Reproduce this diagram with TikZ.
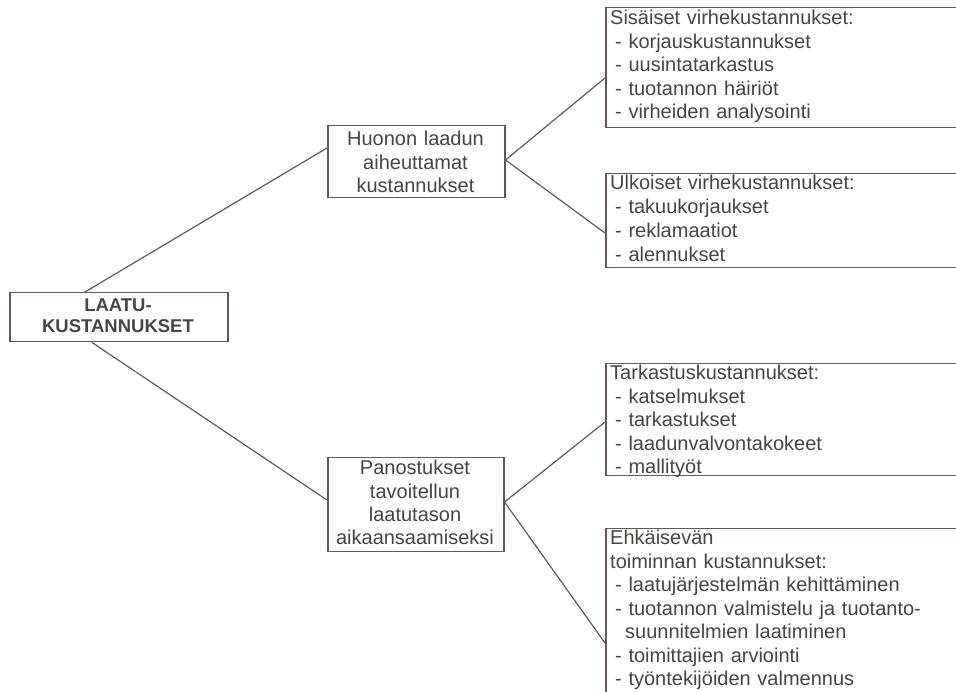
\documentclass[tikz,border=0pt]{standalone}
\usepackage{fontspec}
\setmainfont{Liberation Sans}
\usetikzlibrary{calc}
\definecolor{textc}{RGB}{72,68,68}
\definecolor{linec}{RGB}{98,88,88}
\tikzset{
  box/.style={draw=linec, line width=1.5pt, inner sep=0pt, anchor=north west, rectangle},
  conn/.style={draw=linec, line width=1.2pt},
  lefttext/.style={anchor=base west, inner sep=0pt, text width=340pt, align=left, text=textc,
    font=\fontsize{20}{23.4}\selectfont},
  midtext/.style={anchor=base, inner sep=0pt, text width=176pt, align=center, text=textc,
    font=\fontsize{20}{23.3}\selectfont},
  roottext/.style={anchor=base, inner sep=0pt, text width=218pt, align=center, text=textc,
    font=\fontsize{18.5}{21}\selectfont\bfseries},
}
\newcommand{\itm}{\hspace*{5pt}- }
\begin{document}
\begin{tikzpicture}[x=1pt,y=1pt]
\useasboundingbox (0,0) rectangle (956,691);
\clip (0,0) rectangle (956,691);
\fill[white] (0,0) rectangle (956,691);

% boxes
\node[box, minimum width=218pt, minimum height=49pt] (root) at (9,399) {};
\node[box, minimum width=177pt, minimum height=72pt] (h) at (327,566) {};
\node[box, minimum width=176pt, minimum height=94pt] (p) at (327,234) {};
\node[box, minimum width=420pt, minimum height=120pt] (s1) at (605,684) {};
\node[box, minimum width=420pt, minimum height=94pt] (s2) at (605,518) {};
\node[box, minimum width=420pt, minimum height=112pt] (s3) at (605,328) {};
\node[box, minimum width=420pt, minimum height=220pt] (s4) at (605,163) {};

% texts
\node[roottext] (troot) at (118,379) {LAATU-\\KUSTANNUKSET};
\node[midtext] (th) at (415.5,545) {Huonon laadun\\aiheuttamat\\kustannukset};
\node[midtext] (tp) at (415,216) {Panostukset\\tavoitellun\\laatutason\\aikaansaamiseksi};
\node[lefttext] (ts1) at (610,666) {Sisäiset virhekustannukset:\\\itm korjauskustannukset\\\itm uusintatarkastus\\\itm tuotannon häiriöt\\\itm virheiden analysointi};
\node[lefttext, font=\fontsize{20}{24}\selectfont] (ts2) at (610,501) {Ulkoiset virhekustannukset:\\\itm takuukorjaukset\\\itm reklamaatiot\\\itm alennukset};
\node[lefttext] (ts3) at (610,311) {Tarkastuskustannukset:\\\itm katselmukset\\\itm tarkastukset\\\itm laadunvalvontakokeet\\\itm mallityöt};
\node[lefttext, font=\fontsize{20}{23.5}\selectfont] (ts4) at (610,146) {Ehkäisevän\\toiminnan kustannukset:\\\itm laatujärjestelmän kehittäminen\\\itm tuotannon valmistelu ja tuotanto-\\\hspace*{15pt}suunnitelmien laatiminen\\\itm toimittajien arviointi\\\itm työntekijöiden valmennus};

% connectors
\draw[conn] ($(root.north west)+(76,0)$) -- ($(h.north west)+(0,-23)$);
\draw[conn] ($(root.south west)+(83,0)$) -- ($(p.north west)+(0,-43)$);
\draw[conn] ($(h.north east)+(0,-35)$) -- ($(s1.north west)+(0,-71)$);
\draw[conn] ($(h.north east)+(0,-35)$) -- ($(s2.north west)+(0,-60)$);
\draw[conn] ($(p.north east)+(0,-45)$) -- ($(s3.north west)+(0,-59)$);
\draw[conn] ($(p.north east)+(0,-45)$) -- ($(s4.north west)+(0,-115)$);
\end{tikzpicture}
\end{document}
